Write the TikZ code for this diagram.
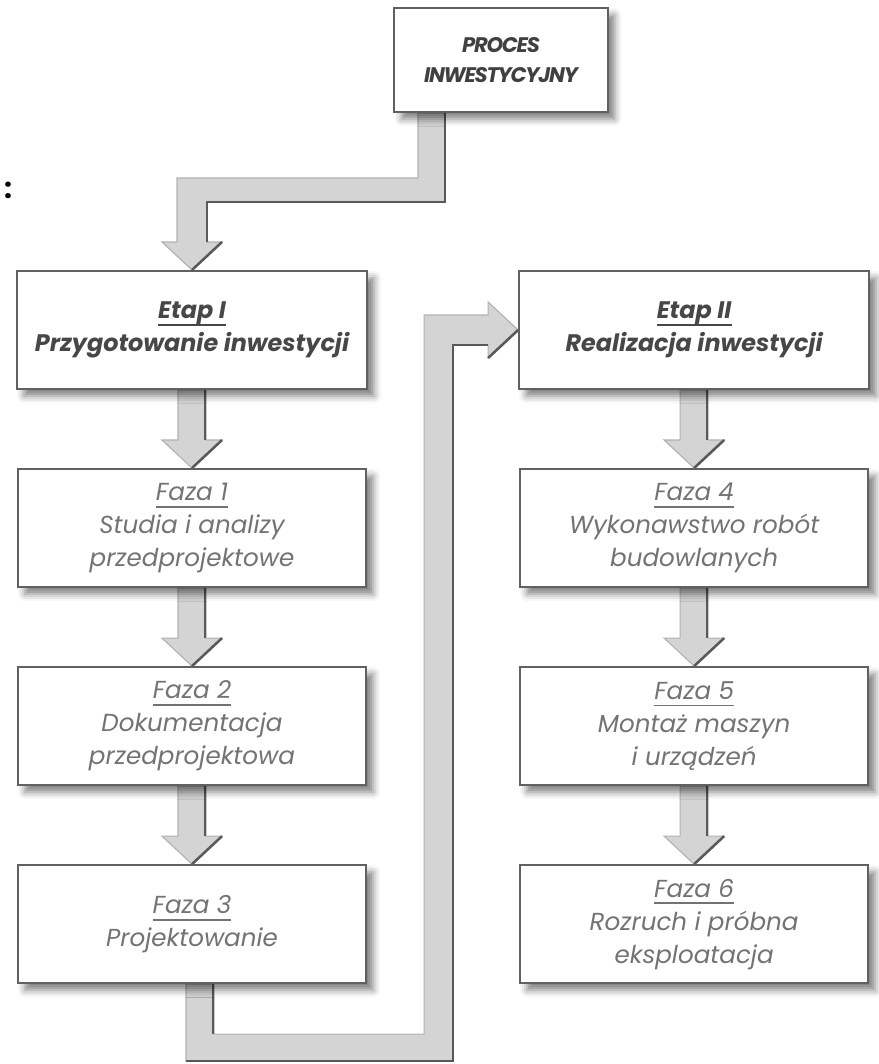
\documentclass[tikz,border=0pt]{standalone}
\usepackage{fontspec}
\setmainfont{Poppins}
\newfontfamily\tightfont[LetterSpace=-6]{Poppins}
\usetikzlibrary{positioning,calc,backgrounds,shadows.blur}

\newlength\ulw
\newcommand\ulabel[1]{\settowidth\ulw{#1}\rlap{#1}\rule[-5pt]{\ulw}{1.1pt}}

% block arrow straight down from one box to the next
\newcommand\stepdown[2]{%
  \path (#1.south) coordinate (fa) (#2.north) coordinate (fb);
  \filldraw[pipe] ($(fa-|fb)+(-14,0)$) -- ($(fa-|fb)+(14,0)$) -- ($(fb)+(14,-28)$) -- ($(fb)+(30,-28)$)
    -- (fb) -- ($(fb)+(-30,-28)$) -- ($(fb)+(-14,-28)$) -- cycle;
  \draw[edge] ($(fa-|fb)+(13,0)$) -- ($(fb)+(13,-28)$);
  \draw[edge] ($(fb)+(30,-28)$) -- (fb);
}

\tikzset{
  box/.style={draw=black!62, line width=1.4pt, fill=white, rectangle, align=center,
    blur shadow={shadow xshift=5pt, shadow yshift=-5pt, shadow blur radius=5pt, shadow opacity=50}},
  title/.style={box, minimum width=5.325cm, minimum height=2.6cm, text=black!75,
    font=\fontsize{15}{21}\selectfont\tightfont\bfseries\itshape},
  stage/.style={box, minimum width=8.75cm, minimum height=2.95cm, text=black!72,
    font=\fontsize{17}{23.5}\selectfont\bfseries\itshape},
  phase/.style={box, minimum width=8.7cm, minimum height=2.95cm, text=black!55,
    font=\fontsize{17.5}{23.5}\selectfont\itshape},
  pipe/.style={fill=black!17, draw=black!30, line width=0.8pt, line join=miter},
  edge/.style={draw=black!65, line width=1.8pt},
}

\begin{document}
\begin{tikzpicture}[x=0.025cm,y=-0.025cm,node distance=4.95cm]
  \useasboundingbox (0,0) rectangle (879,1064);

  \node (colon) at (8,190) {\fontsize{20}{20}\selectfont\bfseries :};
  \node (proces) [title] at (501,60) {PROCES\\INWESTYCYJNY};

  \node (etap1) [stage] at (192,330) {\ulabel{Etap I}\\Przygotowanie inwestycji};
  \node (faza1) [phase, below of=etap1] {\ulabel{Faza 1}\\Studia i analizy\\przedprojektowe};
  \node (faza2) [phase, below of=faza1] {\ulabel{Faza 2}\\Dokumentacja\\przedprojektowa};
  \node (faza3) [phase, below of=faza2] {\ulabel{Faza 3}\\Projektowanie};

  \node (etap2) [stage, node distance=12.55cm, right of=etap1] {\ulabel{Etap II}\\Realizacja inwestycji};
  \node (faza4) [phase, below of=etap2] {\ulabel{Faza 4}\\Wykonawstwo robót\\budowlanych};
  \node (faza5) [phase, below of=faza4] {\ulabel{Faza 5}\\Montaż maszyn\\i urządzeń};
  \node (faza6) [phase, below of=faza5] {\ulabel{Faza 6}\\Rozruch i próbna\\eksploatacja};

  \begin{pgfonlayer}{background}
    % from the title down to stage I
    \filldraw[pipe] ($(proces.south)+(-83,0)$) -- ($(proces.south)+(-56,0)$) |- ($(etap1.north)+(15,-68)$)
      -- ($(etap1.north)+(15,-28)$) -- ($(etap1.north)+(30,-28)$) -- (etap1.north)
      -- ($(etap1.north)+(-30,-28)$) -- ($(etap1.north)+(-15,-28)$) |- ($(proces.south)+(-83,65)$) -- cycle;
    \draw[edge] ($(proces.south)+(-56,0)$) |- ($(etap1.north)+(15,-68)$) -- ($(etap1.north)+(15,-28)$);
    \draw[edge] ($(etap1.north)+(30,-28)$) -- (etap1.north);

    \foreach \a/\b in {etap1/faza1,faza1/faza2,faza2/faza3,etap2/faza4,faza4/faza5,faza5/faza6}
      \stepdown{\a}{\b};

    % from phase 3 round to stage II
    \filldraw[pipe] ($(faza3.south)+(-6,0)$) -- ($(faza3.south)+(-6,77)$) -| ($(etap2.west)+(-65,15)$)
      -- ($(etap2.west)+(-30,15)$) -- ($(etap2.west)+(-30,28)$) -- (etap2.west)
      -- ($(etap2.west)+(-30,-28)$) -- ($(etap2.west)+(-30,-15)$) -- ($(etap2.west)+(-94,-15)$)
      |- ($(faza3.south)+(22,50)$) -- ($(faza3.south)+(22,0)$) -- cycle;
    \draw[edge] ($(faza3.south)+(21,0)$) -- ($(faza3.south)+(21,50)$);
    \draw[edge] ($(faza3.south)+(-6,77)$) -| ($(etap2.west)+(-65,15)$) -- ($(etap2.west)+(-30,15)$);
    \draw[edge] ($(etap2.west)+(-30,28)$) -- (etap2.west);
  \end{pgfonlayer}
\end{tikzpicture}
\end{document}
